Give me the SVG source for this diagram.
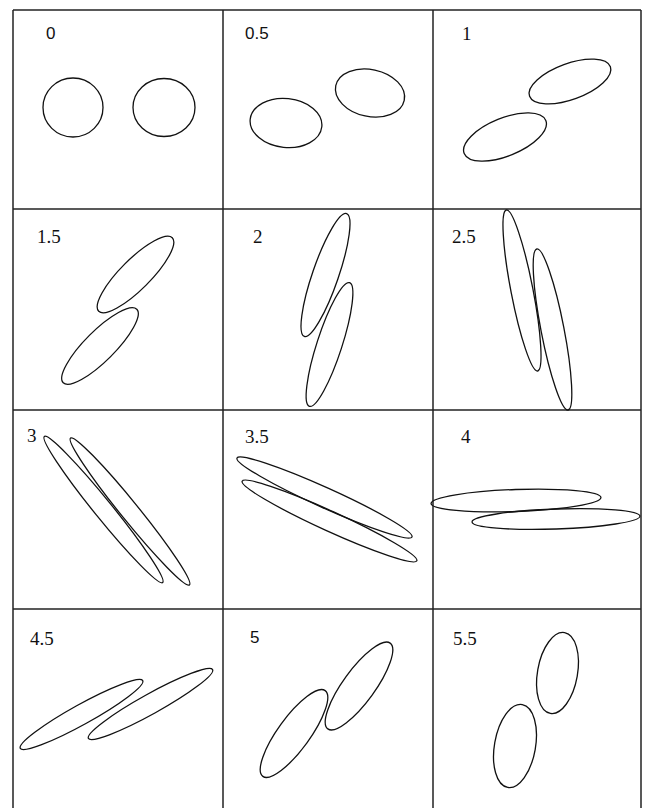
<svg xmlns="http://www.w3.org/2000/svg" width="647" height="808" viewBox="0 0 647 808">
<style>
.grid{stroke:#222;stroke-width:1.5;fill:none}
.e{fill:none;stroke:#111;stroke-width:1.3}
.ls{font-family:"Liberation Serif",serif;font-size:19px;fill:#111}
.la{font-family:"Liberation Sans",sans-serif;font-size:17px;fill:#111}
</style>
<rect width="647" height="808" fill="#fff"/>
<g id="grid">
<line class="grid" x1="13" y1="10" x2="641" y2="10"/>
<line class="grid" x1="13" y1="209" x2="641" y2="209"/>
<line class="grid" x1="13" y1="410" x2="641" y2="410"/>
<line class="grid" x1="13" y1="609" x2="641" y2="609"/>
<line class="grid" x1="13" y1="10" x2="13" y2="808"/>
<line class="grid" x1="223" y1="10" x2="223" y2="808"/>
<line class="grid" x1="433" y1="10" x2="433" y2="808"/>
<line class="grid" x1="641" y1="10" x2="641" y2="808"/>
</g>
<g id="cell-0">
<text class="la" x="46" y="39">0</text>
<ellipse class="e" cx="73" cy="107.5" rx="30" ry="29.5"/>
<ellipse class="e" cx="164" cy="107.5" rx="31" ry="29"/>
</g>
<g id="cell-0-5">
<text class="la" x="245" y="39">0.5</text>
<ellipse class="e" cx="286" cy="123" rx="36" ry="24.5" transform="rotate(6 286 123)"/>
<ellipse class="e" cx="370" cy="93" rx="35" ry="23.5" transform="rotate(12 370 93)"/>
</g>
<g id="cell-1">
<text class="ls" x="462" y="40">1</text>
<ellipse class="e" cx="570" cy="81.5" rx="43" ry="18" transform="rotate(-20 570 81.5)"/>
<ellipse class="e" cx="505" cy="137" rx="44" ry="19" transform="rotate(-22 505 137)"/>
</g>
<g id="cell-1-5">
<text class="ls" x="37" y="243">1.5</text>
<ellipse class="e" cx="135.5" cy="274.5" rx="52" ry="15" transform="rotate(-45 135.5 274.5)"/>
<ellipse class="e" cx="100" cy="346" rx="52" ry="15" transform="rotate(-45 100 346)"/>
</g>
<g id="cell-2">
<text class="ls" x="253" y="243">2</text>
<ellipse class="e" cx="325.5" cy="275" rx="65" ry="13" transform="rotate(-71 325.5 275)"/>
<ellipse class="e" cx="329.5" cy="344.5" rx="65" ry="12.5" transform="rotate(-72 329.5 344.5)"/>
</g>
<g id="cell-2-5">
<text class="ls" x="452" y="243">2.5</text>
<ellipse class="e" cx="522" cy="290.5" rx="82" ry="11" transform="rotate(79 522 290.5)"/>
<ellipse class="e" cx="552.5" cy="329.5" rx="82" ry="11.5" transform="rotate(79 552.5 329.5)"/>
</g>
<g id="cell-3">
<text class="ls" x="27" y="442">3</text>
<ellipse class="e" cx="103.5" cy="509.5" rx="94" ry="9" transform="rotate(51 103.5 509.5)"/>
<ellipse class="e" cx="130" cy="511.5" rx="94.5" ry="9" transform="rotate(51 130 511.5)"/>
</g>
<g id="cell-3-5">
<text class="ls" x="245" y="443">3.5</text>
<ellipse class="e" cx="324.5" cy="497.5" rx="96" ry="10" transform="rotate(24.3 324.5 497.5)"/>
<ellipse class="e" cx="329.5" cy="521" rx="96" ry="10" transform="rotate(24.5 329.5 521)"/>
</g>
<g id="cell-4">
<text class="ls" x="461" y="443">4</text>
<ellipse class="e" cx="516" cy="500.5" rx="85" ry="11" transform="rotate(-2 516 500.5)"/>
<ellipse class="e" cx="556" cy="519" rx="84" ry="10" transform="rotate(-2 556 519)"/>
</g>
<g id="cell-4-5">
<text class="ls" x="30" y="645">4.5</text>
<ellipse class="e" cx="81.5" cy="714.5" rx="70" ry="10" transform="rotate(-29 81.5 714.5)"/>
<ellipse class="e" cx="150.5" cy="704" rx="71" ry="10" transform="rotate(-29 150.5 704)"/>
</g>
<g id="cell-5">
<text class="la" x="250" y="643">5</text>
<ellipse class="e" cx="294" cy="733.5" rx="53" ry="16" transform="rotate(-54 294 733.5)"/>
<ellipse class="e" cx="359" cy="686" rx="53" ry="16" transform="rotate(-54 359 686)"/>
</g>
<g id="cell-5-5">
<text class="ls" x="453" y="645">5.5</text>
<ellipse class="e" cx="557.5" cy="673" rx="20" ry="41" transform="rotate(10 557.5 673)"/>
<ellipse class="e" cx="515" cy="746" rx="20.5" ry="42" transform="rotate(10 515 746)"/>
</g>
</svg>
